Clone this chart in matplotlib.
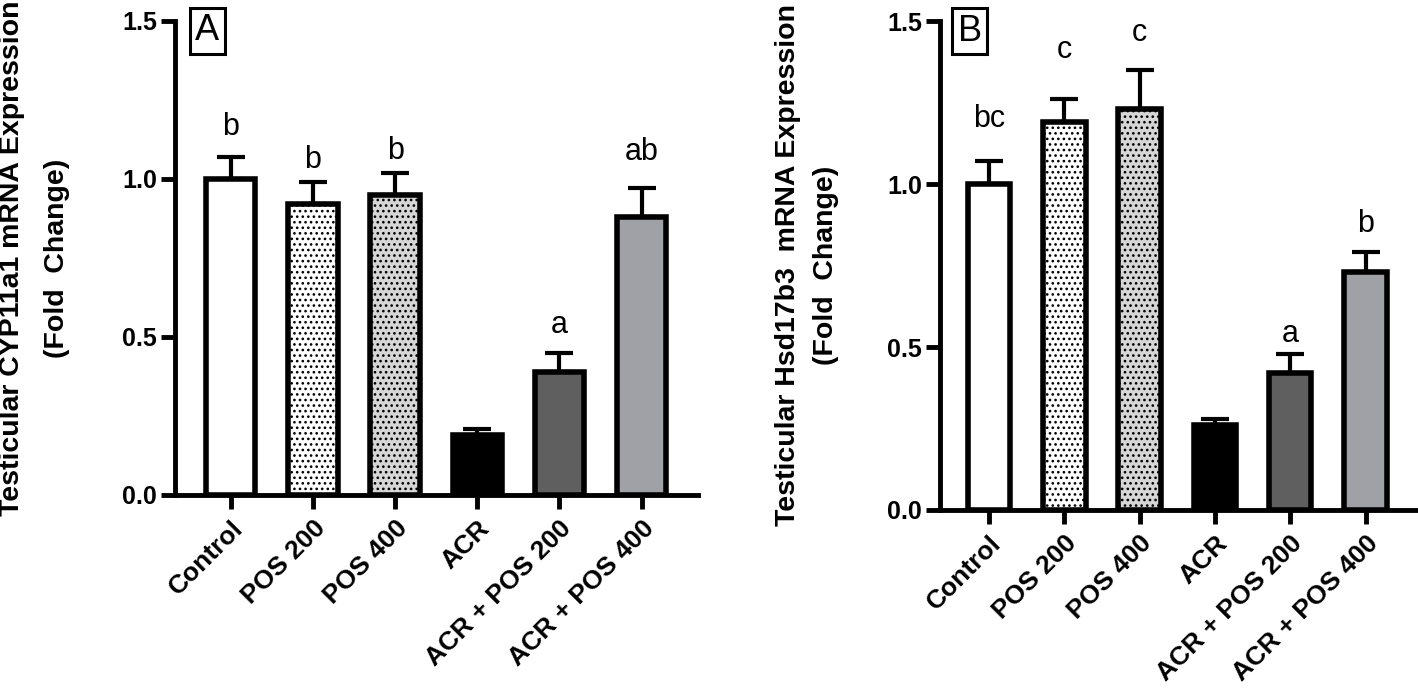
import numpy as np
import matplotlib
matplotlib.use("Agg")
import matplotlib.pyplot as plt

plt.rcParams["font.family"] = ["Liberation Sans", "DejaVu Sans"]
plt.rcParams["hatch.linewidth"] = 1.1

groups = ["Control", "POS 200", "POS 400", "ACR", "ACR + POS 200", "ACR + POS 400"]

cyp_mean = [1.00, 0.92, 0.95, 0.19, 0.39, 0.88]
cyp_sem = [0.07, 0.07, 0.07, 0.02, 0.06, 0.09]
cyp_letters = ["b", "b", "b", "", "a", "ab"]
cyp_letter_y = [1.139, 1.035, 1.063, 0.0, 0.514, 1.06]

hsd_mean = [1.00, 1.19, 1.23, 0.26, 0.42, 0.73]
hsd_sem = [0.07, 0.07, 0.12, 0.02, 0.06, 0.06]
hsd_letters = ["bc", "c", "c", "", "a", "b"]
hsd_letter_y = [1.175, 1.387, 1.439, 0.0, 0.515, 0.854]

fills = ["white", "white", "#d6d6d6", "black", "#5f5f5f", "#a0a1a6"]
hatches = [None, "...", "...", None, None, None]


def draw_panel(ax, means, sems, letters, letter_y, tag, width, xlim):
    x = np.arange(len(groups))
    for i in range(len(groups)):
        ax.bar(x[i], means[i], width=width, color=fills[i], edgecolor="black",
               linewidth=4, hatch=hatches[i], zorder=3)
    ax.errorbar(x, means, yerr=[np.zeros(len(sems)), sems], fmt="none",
                ecolor="black", elinewidth=3, capsize=10, capthick=3, zorder=2)
    for i, lab in enumerate(letters):
        if lab:
            ax.text(x[i], letter_y[i], lab, ha="center", va="baseline",
                    fontsize=22)

    ax.set_xlim(*xlim)
    ax.set_ylim(0, 1.5)
    ax.set_yticks([0.0, 0.5, 1.0, 1.5])
    ax.set_yticklabels(["0.0", "0.5", "1.0", "1.5"], fontsize=18, fontweight="bold")
    ax.set_xticks(x)
    ax.set_xticklabels(groups, rotation=45, ha="right", va="top",
                       rotation_mode="anchor", fontsize=19, fontweight="bold")
    for side in ["top", "right"]:
        ax.spines[side].set_visible(False)
    for side in ["left", "bottom"]:
        ax.spines[side].set_linewidth(3.5)
    ax.tick_params(axis="both", length=10, width=3.5, pad=3)
    ax.tick_params(axis="x", pad=5)

    ax.text(0.062, 0.979, tag, transform=ax.transAxes, ha="center", va="center",
            fontsize=26,
            bbox=dict(boxstyle="square,pad=0.15", facecolor="white",
                      edgecolor="black", linewidth=2.2))


fig = plt.figure(figsize=(14.18, 6.89), dpi=100)
ax_a = fig.add_axes([0.1234, 0.2816, 0.3688, 0.688])
ax_b = fig.add_axes([0.6629, 0.2598, 0.3371, 0.7097])

draw_panel(ax_a, cyp_mean, cyp_sem, cyp_letters, cyp_letter_y, "A", 0.60, (-0.678, 5.685))
draw_panel(ax_b, hsd_mean, hsd_sem, hsd_letters, hsd_letter_y, "B", 0.565, (-0.651, 5.697))

fig.text(0.0085, 0.6255, "Testicular CYP11a1 mRNA Expression", rotation=90,
         ha="center", va="center", fontsize=20.5, fontweight="bold")
fig.text(0.0405, 0.6255, "(Fold  Change)", rotation=90,
         ha="center", va="center", fontsize=20.5, fontweight="bold")
fig.text(0.5557, 0.6154, "Testicular Hsd17b3  mRNA Expression", rotation=90,
         ha="center", va="center", fontsize=20.5, fontweight="bold")
fig.text(0.5825, 0.6154, "(Fold  Change)", rotation=90,
         ha="center", va="center", fontsize=20.5, fontweight="bold")

fig.savefig("out.png", dpi=100)
